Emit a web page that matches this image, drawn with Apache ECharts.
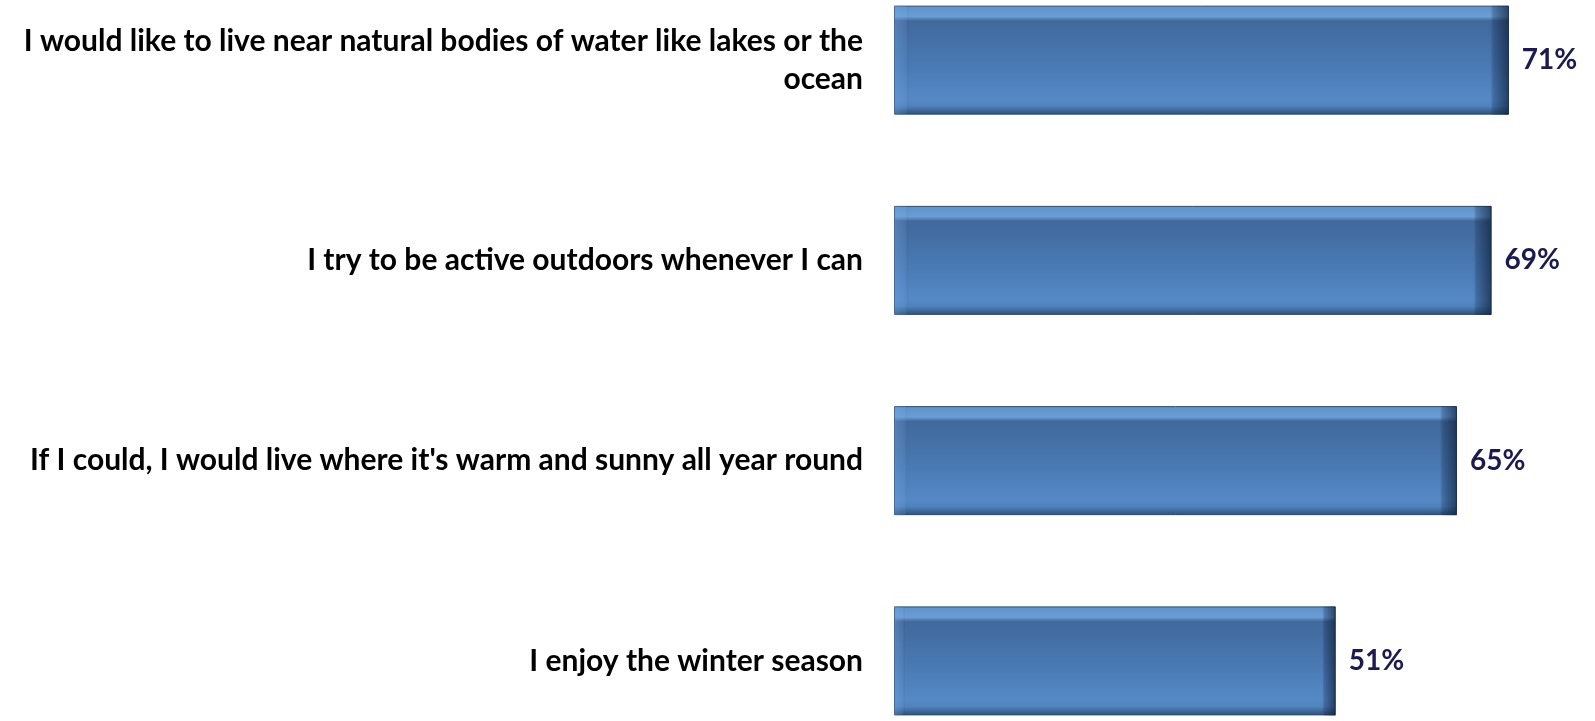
<!DOCTYPE html>
<html>
<head>
<meta charset="utf-8">
<script src="https://cdn.jsdelivr.net/npm/echarts@6/dist/echarts.min.js"></script>
<style>
  html, body { margin: 0; padding: 0; background: #fff; }
  #main { width: 1595px; height: 721px; }
</style>
</head>
<body>
<div id="main"></div>
<script>
var chartDom = document.getElementById('main');
var myChart = echarts.init(chartDom);

// categories top to bottom as in the picture
var statements = [
    'I would like to live near natural bodies of water like lakes or the\nocean',
    'I try to be active outdoors whenever I can',
    "If I could, I would live where it's warm and sunny all year round",
    'I enjoy the winter season'
];
var agreePct = [71, 69, 65, 51];

var labelFont = 'Lato, "Open Sans", sans-serif';

var option = {
    animation: false,
    grid: {
        left: 894,
        right: 1595 - 894 - 692.8,
        top: -40,
        bottom: -40,
        outerBoundsMode: 'none',
        containLabel: false
    },
    xAxis: {
        type: 'value',
        min: 0,
        max: 80,
        show: false
    },
    yAxis: {
        type: 'category',
        inverse: true,
        data: statements,
        axisLine: { show: false },
        axisTick: { show: false },
        axisLabel: {
            margin: 31,
            color: '#000',
            fontFamily: labelFont,
            fontWeight: 'bold',
            fontSize: 30,
            lineHeight: 38,
            align: 'right'
        }
    },
    series: [
        {
            // body of the bar, light top edge and darker bottom edge
            type: 'bar',
            data: agreePct,
            barWidth: 109,
            itemStyle: {
                color: {
                    type: 'linear', x: 0, y: 0, x2: 0, y2: 1,
                    colorStops: [
                        { offset: 0, color: '#5f91cc' },
                        { offset: 0.1, color: '#6b9dd4' },
                        { offset: 0.14, color: '#41699c' },
                        { offset: 0.5, color: '#4877b0' },
                        { offset: 0.86, color: '#5589c6' },
                        { offset: 0.92, color: '#5082bd' },
                        { offset: 1, color: '#2f5077' }
                    ]
                },
                borderColor: '#2e4a6e',
                borderWidth: 1
            },
            label: {
                show: true,
                position: 'right',
                distance: 13,
                formatter: '{c}%',
                color: '#1c1b4d',
                fontFamily: labelFont,
                fontWeight: 'bold',
                fontSize: 28
            }
        },
        {
            // side bevels: light left edge, dark right edge
            type: 'bar',
            data: agreePct,
            barWidth: 109,
            barGap: '-100%',
            silent: true,
            itemStyle: {
                color: {
                    type: 'linear', x: 0, y: 0, x2: 1, y2: 0,
                    colorStops: [
                        { offset: 0, color: 'rgba(120,170,230,0.35)' },
                        { offset: 0.02, color: 'rgba(120,170,230,0.12)' },
                        { offset: 0.025, color: 'rgba(0,0,0,0)' },
                        { offset: 0.97, color: 'rgba(0,0,0,0)' },
                        { offset: 0.975, color: 'rgba(10,25,50,0.25)' },
                        { offset: 1, color: 'rgba(10,25,50,0.65)' }
                    ]
                }
            }
        }
    ]
};

option && myChart.setOption(option);
</script>
</body>
</html>
